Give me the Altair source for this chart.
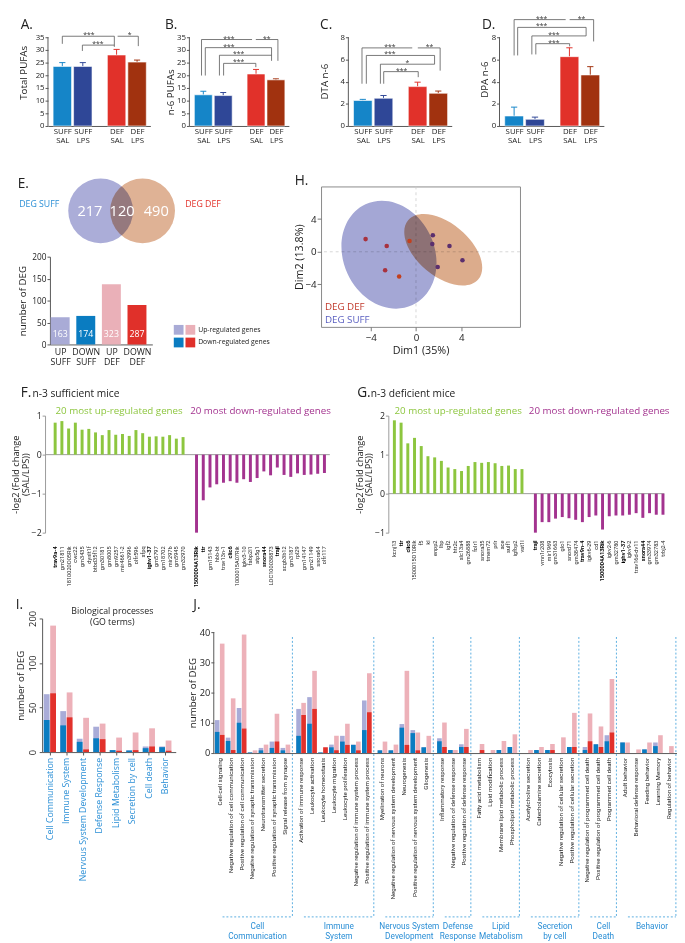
import altair as alt
import pandas as pd

FONT = "Open Sans"
NARROW = "Roboto"
TXT = "#222222"
AX = "#555555"
BLUE_TXT = "#2b8fd6"

# ---------------- Panels A-D : PUFA bar charts ----------------
GROUPS = ["SUFF SAL", "SUFF LPS", "DEF SAL", "DEF LPS"]
GROUP_POS = [1.0, 2.0, 3.65, 4.65]
GROUP_COLORS = ["#1585c8", "#2f4797", "#e1312a", "#a1320f"]

TOTAL_PUFA = [23.5, 23.5, 28.0, 25.2]
TOTAL_PUFA_TOP = [25.0, 25.0, 30.2, 26.0]
N6_PUFA = [12.3, 12.0, 20.5, 18.2]
N6_PUFA_TOP = [13.7, 13.2, 22.3, 18.6]
DTA_N6 = [2.3, 2.5, 3.55, 2.95]
DTA_N6_TOP = [2.4, 2.75, 3.95, 3.15]
DPA_N6 = [0.9, 0.6, 6.25, 4.6]
DPA_N6_TOP = [1.7, 0.8, 7.05, 5.35]

# significance brackets (x1, y1, x2, y2) in data units, and star labels
A_LINES = [(1.0, 35.4, 3.54, 35.4), (3.70, 35.4, 4.71, 35.4), (1.98, 31.9, 3.54, 31.9),
           (1.0, 35.4, 1.0, 32.4), (1.98, 31.9, 1.98, 29.6), (3.54, 35.4, 3.54, 31.2),
           (4.71, 35.4, 4.71, 31.5)]
A_STARS = [("***", 2.3, 35.4), ("*", 4.29, 35.4), ("***", 2.74, 31.9)]
B_LINES = [(0.91, 34.1, 3.45, 34.1), (3.64, 34.1, 4.75, 34.1), (1.1, 30.9, 4.43, 30.9),
           (1.81, 27.9, 4.43, 27.9), (2.02, 24.7, 3.64, 24.7),
           (0.91, 34.1, 0.91, 19.9), (1.1, 30.9, 1.1, 19.9), (1.81, 27.9, 1.81, 19.9),
           (2.02, 24.7, 2.02, 19.9), (4.75, 34.1, 4.75, 25.7), (4.43, 30.9, 4.43, 25.7),
           (3.64, 24.7, 3.64, 23.2)]
B_STARS = [("***", 2.29, 34.1), ("**", 4.19, 34.1), ("***", 2.29, 30.9), ("***", 2.77, 27.9), ("***", 2.77, 24.7)]
C_LINES = [(0.96, 7.04, 3.39, 7.04), (3.66, 7.04, 4.74, 7.04), (1.17, 6.36, 4.47, 6.36),
           (1.85, 5.57, 4.47, 5.57), (2.01, 4.9, 3.68, 4.9),
           (0.96, 7.04, 0.96, 3.81), (1.17, 6.36, 1.17, 3.81), (1.85, 5.57, 1.85, 3.81),
           (2.01, 4.9, 2.01, 3.81), (4.74, 7.04, 4.74, 4.99), (4.47, 6.36, 4.47, 5.57),
           (3.68, 4.9, 3.68, 4.4)]
C_STARS = [("***", 2.31, 7.04), ("**", 4.22, 7.04), ("***", 2.31, 6.36), ("*", 3.15, 5.57), ("***", 2.88, 4.9)]
D_LINES = [(1.0, 9.59, 3.47, 9.59), (3.66, 9.59, 4.81, 9.59), (1.17, 8.89, 4.45, 8.89),
           (1.85, 8.12, 4.45, 8.12), (2.04, 7.42, 3.66, 7.42),
           (1.0, 9.59, 1.0, 6.36), (1.17, 8.89, 1.17, 6.36), (1.85, 8.12, 1.85, 6.45),
           (2.04, 7.42, 2.04, 6.45), (4.81, 9.59, 4.81, 7.62), (4.45, 8.89, 4.45, 8.12),
           (3.66, 7.42, 3.66, 7.18)]
D_STARS = [("***", 2.32, 9.59), ("**", 4.23, 9.59), ("***", 2.32, 8.89), ("***", 2.91, 8.12), ("***", 2.91, 7.42)]

# ---------------- Panel E ----------------
VENN_SET_LABELS = ["DEG SUFF", "DEG DEF"]
VENN_SET_COLORS = ["#2b8fd6", "#e3312a"]
VENN_FILLS = ["#abadd8", "#dfb295"]
VENN_REGION_COUNTS = ["217", "120", "490"]
# venn layout (pixels inside the venn view)
VENN_CX = [52, 95]
VENN_CY = [25, 25]
VENN_COUNT_X = [41, 74, 109]
VENN_LABEL_X = [-11, 157]

DEG_CATS = ["UP SUFF", "DOWN SUFF", "UP DEF", "DOWN DEF"]
DEG_BAR = [62, 65, 137, 90]
DEG_COUNT = [163, 174, 323, 287]
DEG_REG = ["Up-regulated genes", "Down-regulated genes"]
DEG_REG_SUFF = ["Up-regulated (SUFF)", "Down-regulated (SUFF)"]
SUFF_REG_COLORS = ["#a9abd6", "#0a7cc1"]
DEF_REG_COLORS = ["#eab0b8", "#e0302a"]

# ---------------- Panel H : PCA ----------------
PCA_X = [-4.46, -2.59, -0.57, -2.73, -1.49, 1.49, 1.44, 2.96, 4.11, 1.92]
PCA_Y = [1.55, 0.71, 1.31, -2.26, -3.02, 2.02, 0.95, 0.71, -1.03, -1.87]
PCA_COL = ["#a8323e", "#a8323e", "#c2401e", "#a8323e", "#c2401e",
           "#5b2f6e", "#5b2f6e", "#5b2f6e", "#5b2f6e", "#5b2f6e"]
ELL_NAMES = ["DEG SUFF", "DEG DEF"]
ELL_CX = [-2.39, 2.41]
ELL_CY = [-0.36, 0.24]
ELL_COLORS = ["#a4a7d5", "#dcac8c"]

# ---------------- Panels F, G ----------------
GREEN = "#8dc63f"
PURPLE = "#a3338f"
F_UP_GENES = ["trav9a-4", "gm21811", "1810020O05Rik", "cwc22", "gm3435", "dynlt1f", "btbd35f12", "gm30181",
              "gm8005", "gm9257", "mir4661-2", "gm3996", "olfr596", "sfpq", "ighv1-37", "gm5797",
              "gm18702", "mir297b", "gm5945", "gm32970"]
F_UP_VALUES = [0.82, 0.86, 0.67, 0.82, 0.64, 0.66, 0.57, 0.5, 0.63, 0.51, 0.53, 0.48, 0.63, 0.55,
               0.46, 0.47, 0.46, 0.5, 0.41, 0.45]
F_DOWN_GENES = ["1500004A13Rik", "ttr", "gm15143", "hbb-bt", "trav13n-1", "clic6", "1000015A07Rik",
                "igkv3-10", "fabp2l1", "atp5g1", "snora44", "LOC100038873", "trajl", "scgb3b12",
                "gm3187", "rpl29", "gm14147", "gm21149", "snora64", "olfr117"]
F_DOWN_VALUES = [-2.0, -1.17, -0.84, -0.76, -0.72, -0.68, -0.72, -0.63, -0.70, -0.60, -0.43, -0.53,
                 -0.33, -0.52, -0.57, -0.48, -0.52, -0.51, -0.49, -0.47]
F_BOLD = ["trav9a-4", "ighv1-37", "1500004A13Rik", "ttr", "clic6", "snora44", "trajl"]

G_UP_GENES = ["kcnj13", "ttr", "clic6", "1500015O10Rik", "f5", "kl", "enpp2", "lbp", "igf2", "htr2c",
              "slc13a4", "gm26888", "folr1", "snora35", "tmem72", "prlr", "ace", "sulf1", "igfbp2", "vat1l"]
G_UP_VALUES = [1.88, 1.82, 1.29, 1.43, 1.22, 0.96, 0.93, 0.84, 0.67, 0.63, 0.58, 0.71, 0.81, 0.79,
               0.81, 0.78, 0.71, 0.72, 0.63, 0.63]
G_DOWN_GENES = ["trajl", "vmn1r208", "mir1969", "gm31663", "glo1", "snord71", "gm38474", "trav9n-4",
                "igkv6-29", "cd1", "1500004A13Rik", "igkv2-6", "gm32780", "ighv1-37", "igkv9-2",
                "trav16d-dv11", "snora44", "gm33974", "gm32783", "trbj2-4"]
G_DOWN_VALUES = [-1.0, -0.73, -0.73, -0.64, -0.60, -0.63, -0.67, -0.73, -0.60, -0.56, -0.92, -0.58,
                 -0.56, -0.56, -0.54, -0.50, -0.62, -0.50, -0.54, -0.54]
G_BOLD = ["ttr", "clic6", "trajl", "trav9n-4", "1500004A13Rik", "ighv1-37", "snora44"]

# ---------------- Panel I ----------------
I_CATS = ["Cell Communication", "Immune System", "Nervous System Development", "Defense Response",
          "Lipid Metabolism", "Secretion by cell", "Cell death", "Behavior"]
I_SUFF_DOWN = [36, 30, 11.5, 15.5, 2.2, 1.8, 4.4, 5.5]
I_SUFF_TOTAL = [65, 46, 15, 28.5, 2.2, 1.8, 6.3, 6.3]
I_DEF_DOWN = [66, 39, 3, 14.5, 1.5, 2.2, 6.3, 1.5]
I_DEF_TOTAL = [184, 67, 38.5, 32, 16.3, 22, 26.7, 13]

LAV = "#a9acd8"
BLU = "#0a7cc1"
PNK = "#edb1b9"
RED = "#e2312b"

# ---------------- Panel J ----------------
J_TERMS = ["Cell-cell signaling", "Negative regulation of cell communication",
           "Positive regulation of cell communication", "Negative regulation of synaptic transmission",
           "Neurotransmitter secretion", "Positive regulation of synaptic transmission",
           "Signal release from synapse",
           "Activation of immune response", "Leukocyte activation", "Leukocyte homeostasis",
           "Leukocyte migration", "Leukocyte proliferation", "Negative regulation of immune system process",
           "Positive regulation of immune system process",
           "Myelination of neurons", "Negative regulation of nervous system development", "Neurogenesis",
           "Positive regulation of nervous system development", "Gliogenesis",
           "Inflammatory response", "Negative regulation of defense response",
           "Positive regulation of defense response",
           "Fatty acid metabolism", "Lipid modification", "Membrane lipid metabolic process",
           "Phospholipid metabolic process",
           "Acetylcholine secretion", "Catecholamine secretion", "Exocytosis",
           "Negative regulation of cellular secretion", "Positive regulation of cellular secretion",
           "Negative regulation of programmed cell death", "Positive regulation of programmed cell death",
           "Programmed cell death",
           "Adult behavior", "Behavioral defense response", "Feeding behavior", "Learning Memory",
           "Regulation of behavior"]
J_TERM_GROUP = [0] * 7 + [1] * 7 + [2] * 5 + [3] * 3 + [4] * 4 + [5] * 5 + [6] * 3 + [7] * 5
J_SUFF_TOTAL = [10.9, 5.1, 14.9, 0.2, 1.7, 3.8, 1.7,
                14.6, 18.5, 0.2, 2.8, 5.7, 2.8, 17.4,
                0.9, 0.9, 9.6, 7.6, 1.9,
                4.9, 1.0, 2.9,
                0, 0, 1.0, 2.0,
                0, 1.0, 1.0, 0, 2.0,
                2.0, 2.9, 5.9,
                3.5, 0, 1.2, 3.5, 0]
J_SUFF_DOWN = [7.0, 4.0, 10.0, 0.2, 0.9, 1.7, 0.9,
               5.7, 9.7, 0.2, 1.9, 3.8, 2.7, 7.6,
               0.9, 0.9, 8.4, 6.6, 1.9,
               3.9, 1.0, 2.0,
               0, 0, 1.0, 2.0,
               0, 1.0, 1.0, 0, 2.0,
               1.0, 2.9, 3.9,
               3.5, 0, 1.2, 2.3, 0]
J_DEF_TOTAL = [36.2, 18.1, 39.2, 0.9, 2.8, 13.0, 2.8,
               16.6, 27.2, 1.9, 5.7, 9.7, 3.8, 26.4,
               3.8, 2.8, 27.2, 6.8, 5.7,
               10.1, 1.0, 8.0,
               3.0, 1.0, 4.0, 6.2,
               1.0, 2.0, 3.0, 5.2, 13.3,
               13.1, 8.8, 24.5,
               3.5, 1.2, 3.5, 5.9, 2.3]
J_DEF_DOWN = [6.0, 1.0, 8.1, 0, 0, 3.8, 0,
              12.6, 14.6, 1.9, 0.9, 2.7, 0.9, 13.5,
              0, 0, 2.7, 0.9, 0,
              2.0, 0, 2.0,
              1.0, 0, 0, 0,
              0, 0, 1.0, 0, 2.0,
              3.9, 2.0, 6.8,
              0, 0, 0, 0, 0]
J_GROUP_LABELS = ["Cell\nCommunication", "Immune\nSystem", "Nervous System\nDevelopment", "Defense\nResponse",
                  "Lipid\nMetabolism", "Secretion\nby cell", "Cell\nDeath", "Behavior"]
J_GROUP_GAP = 0.43


def txt(t, dx, dy, size, color=TXT, align="left", baseline="top", weight="normal", font=FONT, line_height=None):
    return alt.Chart(pd.DataFrame({"t": [t]})).mark_text(
        align=align, baseline=baseline, fontSize=size, color=color, fontWeight=weight, font=font,
        lineBreak="\n", lineHeight=line_height if line_height else size + 1
    ).encode(x=alt.value(dx), y=alt.value(dy), text="t:N")


def spacer(w, h):
    return alt.Chart(pd.DataFrame({"v": [0]})).mark_point(opacity=0, size=1).encode(
        x=alt.value(0), y=alt.value(0)).properties(width=w, height=h)


PUFA_LABEL_EXPR = ("datum.value < 1.5 ? ['SUFF','SAL'] : datum.value < 2.5 ? ['SUFF','LPS'] : "
                   "datum.value < 4 ? ['DEF','SAL'] : ['DEF','LPS']")


def pufa_panel(letter, letter_dx, ytitle, title_pad, title_y, vals, tops, ymax, yfull, yticks, lines, stars, width):
    h = 115
    df = pd.DataFrame({"group": GROUPS, "pos": GROUP_POS, "value": vals, "err": tops, "col": GROUP_COLORS})
    df["lo"] = df["pos"] - 0.45
    df["hi"] = df["pos"] + 0.45
    df["cl"] = df["pos"] - 0.15
    df["cr"] = df["pos"] + 0.15
    df["zero"] = 0.0
    xs = alt.Scale(domain=[0.3, 5.3], nice=False, zero=False)
    ys = alt.Scale(domain=[0, yfull], nice=False)
    xa = alt.Axis(values=GROUP_POS, labelExpr=PUFA_LABEL_EXPR, title=None, ticks=False, labelFontSize=8,
                  labelPadding=2, labelLineHeight=9, labelColor=TXT, domainColor=AX, labelAngle=0,
                  labelFlush=False, labelOverlap=False)
    ya = alt.Axis(values=yticks, title=ytitle, titlePadding=title_pad, titleY=title_y, tickSize=3,
                  labelFontSize=8, labelPadding=1, titleFontSize=10, titleFontWeight="normal", labelColor=TXT,
                  titleColor=TXT, domain=False, tickColor=AX, labelFlush=False)
    col = alt.Color("col:N", scale=None)
    base = alt.Chart(df)
    err = base.mark_rule(strokeWidth=1).encode(
        x=alt.X("pos:Q", scale=xs, axis=xa), y=alt.Y("value:Q", scale=ys, axis=ya), y2="err:Q", color=col)
    cap = base.mark_rule(strokeWidth=1).encode(
        x=alt.X("cl:Q", scale=xs, axis=xa), x2="cr:Q", y=alt.Y("err:Q", scale=ys, axis=ya), color=col)
    bars = base.mark_bar(stroke="#ffffff", strokeWidth=0.6).encode(
        x=alt.X("lo:Q", scale=xs, axis=xa), x2="hi:Q", y=alt.Y("value:Q", scale=ys, axis=ya),
        y2="zero:Q", color=col)
    axis_line = alt.Chart(pd.DataFrame({"y0": [0.0], "y1": [float(ymax)]})).mark_rule(
        color=AX, strokeWidth=1).encode(x=alt.value(0), y=alt.Y("y0:Q", scale=ys, axis=ya), y2="y1:Q")
    sdf = pd.DataFrame(lines, columns=["x1", "y1", "x2", "y2"])
    seg = alt.Chart(sdf).mark_rule(color="#555555", strokeWidth=0.8).encode(
        x=alt.X("x1:Q", scale=xs, axis=xa), y=alt.Y("y1:Q", scale=ys, axis=ya), x2="x2:Q", y2="y2:Q")
    tdf = pd.DataFrame(stars, columns=["t", "x", "y"])
    st = alt.Chart(tdf).mark_text(fontSize=7, baseline="bottom", dy=2, color="#333333").encode(
        x=alt.X("x:Q", scale=xs, axis=xa), y=alt.Y("y:Q", scale=ys, axis=ya), text="t:N")
    return alt.layer(
        err, cap, bars, axis_line, seg, st,
        txt(letter, letter_dx, 5, 14),
    ).properties(width=width, height=h)


panel_a = pufa_panel("A.", -28, "Total PUFAs", 7, 60, TOTAL_PUFA, TOTAL_PUFA_TOP, 35, 44.23,
                     [0, 5, 10, 15, 20, 25, 30, 35], A_LINES, A_STARS, 105)
panel_b = pufa_panel("B.", -25, "n-6 PUFAs", 1, 80, N6_PUFA, N6_PUFA_TOP, 35, 44.23,
                     [0, 5, 10, 15, 20, 25, 30, 35], B_LINES, B_STARS, 102)
panel_c = pufa_panel("C.", -29, "DTA n-6", 11, 69, DTA_N6, DTA_N6_TOP, 8, 10.11, [0, 2, 4, 6, 8],
                     C_LINES, C_STARS, 106)
panel_d = pufa_panel("D.", -18, "DPA n-6", 2, 67, DPA_N6, DPA_N6_TOP, 8, 10.11, [0, 2, 4, 6, 8],
                     D_LINES, D_STARS, 107)

row1 = alt.hconcat(spacer(9, 1), panel_a, spacer(14, 1), panel_b, spacer(30, 1), panel_c, spacer(27, 1),
                   panel_d, spacing=0)

# ---------------- Panel E ----------------
vw, vh = 180, 65
vxs = alt.Scale(domain=[0, vw], nice=False, zero=False)
vys = alt.Scale(domain=[0, vh], nice=False, zero=False, reverse=True)
circ_df = pd.DataFrame({"name": VENN_SET_LABELS, "cx": VENN_CX, "cy": VENN_CY, "fill": VENN_FILLS})
venn_circles = alt.Chart(circ_df).mark_circle(size=4418, opacity=1, blend="multiply").encode(
    x=alt.X("cx:Q", scale=vxs, axis=None), y=alt.Y("cy:Q", scale=vys, axis=None),
    color=alt.Color("fill:N", scale=None))
cnt_df = pd.DataFrame({"t": VENN_REGION_COUNTS, "x": VENN_COUNT_X, "y": [25, 25, 25]})
venn_counts = alt.Chart(cnt_df).mark_text(fontSize=15, color="white", baseline="middle").encode(
    x=alt.X("x:Q", scale=vxs, axis=None), y=alt.Y("y:Q", scale=vys, axis=None), text="t:N")
lab_df = pd.DataFrame({"t": VENN_SET_LABELS, "x": VENN_LABEL_X, "y": [18, 18], "c": VENN_SET_COLORS})
venn_labels = alt.Chart(lab_df).mark_text(fontSize=9, baseline="middle").encode(
    x=alt.X("x:Q", scale=vxs, axis=None), y=alt.Y("y:Q", scale=vys, axis=None), text="t:N",
    color=alt.Color("c:N", scale=None))
venn = alt.layer(venn_circles, venn_counts, venn_labels, txt("E.", -33, -9, 14)).properties(width=vw, height=vh)

deg_df = pd.DataFrame({"cat": DEG_CATS, "pos": [1, 2, 3, 4], "value": DEG_BAR, "count": DEG_COUNT,
                       "reg_suff": DEG_REG_SUFF * 2, "reg_def": DEG_REG * 2,
                       "diet": ["SUFF", "SUFF", "DEF", "DEF"]})
deg_df["lo"] = deg_df["pos"] - 0.37
deg_df["hi"] = deg_df["pos"] + 0.37
deg_df["zero"] = 0.0
deg_df["ylab"] = 24.0
exs = alt.Scale(domain=[0.6, 4.6], nice=False, zero=False)
eys = alt.Scale(domain=[0, 200], nice=False)
E_LABEL_EXPR = ("datum.value < 1.5 ? ['UP','SUFF'] : datum.value < 2.5 ? ['DOWN','SUFF'] : "
                "datum.value < 3.5 ? ['UP','DEF'] : ['DOWN','DEF']")
exa = alt.Axis(values=[1, 2, 3, 4], labelExpr=E_LABEL_EXPR, title=None, ticks=False, labelFontSize=9,
               labelPadding=3, labelLineHeight=11, domainColor=AX, labelColor=TXT, labelFlush=False,
               labelOverlap=False)
eya = alt.Axis(values=[0, 50, 100, 150, 200], title="number of DEG", titlePadding=4, titleFontSize=10,
               labelFontSize=8.5, tickSize=3, labelPadding=1, domainColor=AX, tickColor=AX, labelFlush=False)
suff_bars = alt.Chart(deg_df[deg_df.diet == "SUFF"]).mark_bar().encode(
    x=alt.X("lo:Q", scale=exs, axis=exa), x2="hi:Q", y=alt.Y("value:Q", scale=eys, axis=eya), y2="zero:Q",
    color=alt.Color("reg_suff:N", scale=alt.Scale(domain=DEG_REG_SUFF, range=SUFF_REG_COLORS),
                    legend=alt.Legend(orient="none", legendX=127, legendY=70, title=None, symbolType="square",
                                      symbolSize=100, symbolStrokeWidth=0, labelOpacity=0, labelFontSize=7,
                                      labelLimit=1, rowPadding=3)))
def_bars = alt.Chart(deg_df[deg_df.diet == "DEF"]).mark_bar().encode(
    x=alt.X("lo:Q", scale=exs, axis=exa), x2="hi:Q", y=alt.Y("value:Q", scale=eys, axis=eya), y2="zero:Q",
    fill=alt.Fill("reg_def:N", scale=alt.Scale(domain=DEG_REG, range=DEF_REG_COLORS),
                  legend=alt.Legend(orient="none", legendX=139, legendY=70, title=None, symbolType="square",
                                    symbolSize=100, symbolStrokeWidth=0, labelFontSize=7, labelColor=TXT,
                                    labelOffset=3, rowPadding=3)))
deg_counts = alt.Chart(deg_df).mark_text(fontSize=9, color="white", baseline="middle").encode(
    x=alt.X("pos:Q", scale=exs, axis=exa), y=alt.Y("ylab:Q", scale=eys, axis=eya), text="count:N")
ebar = alt.layer(suff_bars, def_bars, deg_counts).properties(width=105, height=90)

e_col = alt.vconcat(venn, spacer(1, 2), ebar, spacing=0).resolve_scale(color="independent", fill="independent")


# ---------------- Panel H ----------------
def ellipse_path(rx, ry):
    k = 0.5523
    kx, ky = round(rx * k, 4), round(ry * k, 4)
    return (f"M {rx} 0 C {rx} {ky} {kx} {ry} 0 {ry} C {-kx} {ry} {-rx} {ky} {-rx} 0 "
            f"C {-rx} {-ky} {-kx} {-ry} 0 {-ry} C {kx} {-ry} {rx} {-ky} {rx} 0 Z")


hxs = alt.Scale(domain=[-8.4, 9.2], nice=False, zero=False)
hys = alt.Scale(domain=[-9.2, 8.0], nice=False, zero=False)
hxa = alt.Axis(values=[-4, 0, 4], title="Dim1 (35%)", titleFontSize=11, labelFontSize=10, tickSize=4,
               domain=False, grid=False, labelFlush=False, titlePadding=2, tickColor="#777777")
hya = alt.Axis(values=[-4, 0, 4], title="Dim2 (13.8%)", titleFontSize=11, labelFontSize=10, tickSize=4,
               domain=False, grid=False, labelFlush=False, titlePadding=1, labelPadding=1, tickColor="#777777")
zero_df = pd.DataFrame({"z": [0.0]})
h_hline = alt.Chart(zero_df).mark_rule(color="#cccccc", strokeDash=[3, 3], strokeWidth=0.8).encode(
    y=alt.Y("z:Q", scale=hys, axis=hya))
h_vline = alt.Chart(zero_df).mark_rule(color="#cccccc", strokeDash=[3, 3], strokeWidth=0.8).encode(
    x=alt.X("z:Q", scale=hxs, axis=hxa))
ell_suff = alt.Chart(pd.DataFrame({"x": [ELL_CX[0]], "y": [ELL_CY[0]]})).mark_point(
    shape=ellipse_path(0.82, 1.0), size=12996, angle=335, filled=True, opacity=1, color=ELL_COLORS[0],
    strokeWidth=0, blend="multiply").encode(
    x=alt.X("x:Q", scale=hxs, axis=hxa), y=alt.Y("y:Q", scale=hys, axis=hya))
ell_def = alt.Chart(pd.DataFrame({"x": [ELL_CX[1]], "y": [ELL_CY[1]]})).mark_point(
    shape=ellipse_path(1.0, 0.574), size=8836, angle=40, filled=True, opacity=1, color=ELL_COLORS[1],
    strokeWidth=0, blend="multiply").encode(
    x=alt.X("x:Q", scale=hxs, axis=hxa), y=alt.Y("y:Q", scale=hys, axis=hya))
pts = alt.Chart(pd.DataFrame({"x": PCA_X, "y": PCA_Y, "c": PCA_COL})).mark_circle(size=22, opacity=1).encode(
    x=alt.X("x:Q", scale=hxs, axis=hxa), y=alt.Y("y:Q", scale=hys, axis=hya), color=alt.Color("c:N", scale=None))
panel_h = alt.layer(
    h_hline, h_vline, ell_suff, ell_def, pts,
    txt("DEG DEF", 4, 124, 10, color="#c0392b", baseline="middle", line_height=10),
    txt("DEG SUFF", 4, 137, 10, color="#5a5fc0", baseline="middle", line_height=10),
    txt("H.", -27, -12, 14),
).properties(width=204, height=144, view=alt.ViewBackground(stroke="#888888", strokeOpacity=1, strokeWidth=1))

row2 = alt.hconcat(spacer(9, 1), e_col, spacer(22, 1), panel_h, spacing=0).resolve_scale(
    color="independent", fill="independent")


# ---------------- Panels F, G ----------------
def fold_panel(letter, subtitle, letter_dx, sub_dx, up_genes, up_vals, down_genes, down_vals, bold,
               ydom, yticks, xdom, width, label_y):
    h = 120
    rows = []
    for i, (g, v) in enumerate(zip(up_genes, up_vals)):
        rows.append({"idx": i, "gene": g, "value": v, "col": GREEN, "bold": g in bold})
    for i, (g, v) in enumerate(zip(down_genes, down_vals)):
        rows.append({"idx": 21 + i, "gene": g, "value": v, "col": PURPLE, "bold": g in bold})
    df = pd.DataFrame(rows)
    df["lo"] = df["idx"] - 0.22
    df["hi"] = df["idx"] + 0.22
    df["zero"] = 0.0
    xs = alt.Scale(domain=xdom, nice=False, zero=False)
    ys = alt.Scale(domain=ydom, nice=False, zero=False)
    ya = alt.Axis(values=yticks, title=["-log2 (Fold change", "(SAL/LPS))"], titlePadding=1, titleFontSize=9.5,
                  titleLineHeight=9.5, labelFontSize=9, tickSize=3, labelPadding=1, domainColor="#999999",
                  tickColor="#999999", labelFlush=False)
    zero = alt.Chart(pd.DataFrame({"z": [0.0]})).mark_rule(color="#999999", strokeWidth=1).encode(
        y=alt.Y("z:Q", scale=ys, axis=ya))
    bars = alt.Chart(df).mark_bar().encode(
        x=alt.X("lo:Q", scale=xs, axis=None), x2="hi:Q", y=alt.Y("value:Q", scale=ys, axis=ya), y2="zero:Q",
        color=alt.Color("col:N", scale=None))
    lab_n = alt.Chart(df[~df["bold"]]).mark_text(angle=270, align="right", baseline="middle", fontSize=5.8,
                                                 color=TXT, font=NARROW).encode(
        x=alt.X("idx:Q", scale=xs, axis=None), y=alt.value(label_y), text="gene:N")
    lab_b = alt.Chart(df[df["bold"]]).mark_text(angle=270, align="right", baseline="middle", fontSize=5.8,
                                                color="#000000", fontWeight="bold", font=NARROW).encode(
        x=alt.X("idx:Q", scale=xs, axis=None), y=alt.value(label_y), text="gene:N")
    heads = alt.Chart(pd.DataFrame({"x": [9.5, 30.5],
                                    "t": ["20 most up-regulated genes", "20 most down-regulated genes"],
                                    "c": [GREEN, PURPLE]})).mark_text(fontSize=10, baseline="middle").encode(
        x=alt.X("x:Q", scale=xs, axis=None), y=alt.value(-5), text="t:N", color=alt.Color("c:N", scale=None))
    return alt.layer(
        zero, bars, lab_n, lab_b, heads,
        txt(letter, letter_dx, -23, 14, baseline="middle"),
        txt(subtitle, sub_dx, -22, 10.5, baseline="middle"),
    ).properties(width=width, height=h)


panel_f = fold_panel("F.", "n-3 sufficient mice", -25, -13, F_UP_GENES, F_UP_VALUES, F_DOWN_GENES,
                     F_DOWN_VALUES, F_BOLD, [-2, 1], [-2, -1, 0, 1], [-1.5, 40.8], 292, 134)
panel_g = fold_panel("G.", "n-3 deficient mice", -32, -18, G_UP_GENES, G_UP_VALUES, G_DOWN_GENES,
                     G_DOWN_VALUES, G_BOLD, [-1, 2], [-1, 0, 1, 2], [-0.9, 40.2], 283, 128)
row3 = alt.hconcat(spacer(2, 1), panel_f, spacer(22, 1), panel_g, spacing=0)

# ---------------- Panel I ----------------
i_df = pd.DataFrame({"cat": I_CATS, "idx": list(range(len(I_CATS))), "suff_down": I_SUFF_DOWN,
                     "suff_total": I_SUFF_TOTAL, "def_down": I_DEF_DOWN, "def_total": I_DEF_TOTAL})
i_df["s_lo"] = i_df["idx"] - 0.37
i_df["s_hi"] = i_df["idx"] - 0.02
i_df["d_lo"] = i_df["idx"] + 0.02
i_df["d_hi"] = i_df["idx"] + 0.37
i_df["zero"] = 0.0
ixs = alt.Scale(domain=[-0.47, 7.63], nice=False, zero=False)
iys = alt.Scale(domain=[0, 100, 200], range=[137, 45.67, 0], nice=False, zero=False)
ixa = alt.Axis(values=list(range(8)), labels=False, title=None, tickSize=3, domainColor=AX, tickColor=AX)
iya = alt.Axis(values=[0, 50, 100, 200], title="number of DEG", titleFontSize=10, titlePadding=2, labelAngle=270,
               labelAlign="center", labelBaseline="bottom", labelFontSize=9.5, tickSize=3, labelPadding=2,
               domainColor=AX, tickColor=AX, labelFlush=False)


def i_bar(lo, hi, field, color):
    return alt.Chart(i_df).mark_bar(color=color).encode(
        x=alt.X(f"{lo}:Q", scale=ixs, axis=ixa), x2=f"{hi}:Q",
        y=alt.Y(f"{field}:Q", scale=iys, axis=iya), y2="zero:Q")


i_labels = alt.Chart(i_df).mark_text(angle=270, align="right", baseline="middle", fontSize=9,
                                     color=BLUE_TXT).encode(
    x=alt.X("idx:Q", scale=ixs, axis=ixa), y=alt.value(143), text="cat:N")
panel_i = alt.layer(
    i_bar("s_lo", "s_hi", "suff_total", LAV), i_bar("s_lo", "s_hi", "suff_down", BLU),
    i_bar("d_lo", "d_hi", "def_total", PNK), i_bar("d_lo", "d_hi", "def_down", RED),
    i_labels,
    txt("Biological processes\n(GO terms)", 72, -12, 9, align="center", line_height=11.5),
    txt("I.", -27, -21, 14),
).properties(width=137, height=137)

# ---------------- Panel J ----------------
j_pos = [i + g * J_GROUP_GAP for i, g in enumerate(J_TERM_GROUP)]
j_df = pd.DataFrame({"term": J_TERMS, "pos": j_pos, "suff_total": J_SUFF_TOTAL, "suff_down": J_SUFF_DOWN,
                     "def_total": J_DEF_TOTAL, "def_down": J_DEF_DOWN})
j_df["s_lo"] = j_df["pos"]
j_df["s_hi"] = j_df["pos"] + 0.42
j_df["d_lo"] = j_df["pos"] + 0.46
j_df["d_hi"] = j_df["pos"] + 0.88
j_df["lab"] = j_df["pos"] + 0.44
j_df["zero"] = 0.0

n_groups = len(J_GROUP_LABELS)
first_pos = [min(p for p, g in zip(j_pos, J_TERM_GROUP) if g == k) for k in range(n_groups)]
last_pos = [max(p for p, g in zip(j_pos, J_TERM_GROUP) if g == k) for k in range(n_groups)]
sep_pos = [first_pos[k + 1] - 0.35 for k in range(n_groups - 1)] + [last_pos[-1] + 1.08]
g_df = pd.DataFrame({"label": J_GROUP_LABELS, "x1": [f + 0.7 for f in first_pos], "sep": sep_pos})
g_df["mid"] = (g_df["x1"] + g_df["sep"]) / 2

J_H = 138
J_YTOP = 40 + 14 / 3.1
jxs = alt.Scale(domain=[-0.1, sep_pos[-1] + 0.1], nice=False, zero=False)
jys = alt.Scale(domain=[0, J_YTOP], nice=False)
jxa = alt.Axis(labels=False, ticks=False, title=None, domainColor=AX, grid=False)
jya = alt.Axis(values=[0, 10, 20, 30, 40], title="number of DEG", titleFontSize=10, titlePadding=2, titleY=76,
               labelFontSize=9.5, tickSize=3, labelPadding=1, domain=False, tickColor=AX, labelFlush=False)


def j_bar(lo, hi, field, color):
    return alt.Chart(j_df).mark_bar(color=color).encode(
        x=alt.X(f"{lo}:Q", scale=jxs, axis=jxa), x2=f"{hi}:Q",
        y=alt.Y(f"{field}:Q", scale=jys, axis=jya), y2="zero:Q")


j_axis_line = alt.Chart(pd.DataFrame({"y0": [0.0], "y1": [40.0]})).mark_rule(color=AX, strokeWidth=1).encode(
    x=alt.value(0), y=alt.Y("y0:Q", scale=jys, axis=jya), y2="y1:Q")
j_labels = alt.Chart(j_df).mark_text(angle=270, align="right", baseline="middle", fontSize=6.3, color=TXT,
                                     font=NARROW).encode(
    x=alt.X("lab:Q", scale=jxs, axis=jxa), y=alt.value(143), text="term:N")
j_vsep = alt.Chart(g_df).mark_rule(color="#5aaee0", strokeDash=[2, 2], strokeWidth=1).encode(
    x=alt.X("sep:Q", scale=jxs, axis=jxa), y=alt.value(19), y2=alt.value(306))
j_hsep = alt.Chart(g_df).mark_rule(color="#5aaee0", strokeDash=[2, 2], strokeWidth=1).encode(
    x=alt.X("x1:Q", scale=jxs, axis=jxa), x2="sep:Q", y=alt.value(306))
j_glab = alt.Chart(g_df).mark_text(fontSize=8.5, color=BLUE_TXT, baseline="top", lineBreak="\n",
                                   lineHeight=10.5, font=NARROW).encode(
    x=alt.X("mid:Q", scale=jxs, axis=jxa), y=alt.value(311), text="label:N")
panel_j = alt.layer(
    j_bar("s_lo", "s_hi", "suff_total", LAV), j_bar("s_lo", "s_hi", "suff_down", BLU),
    j_bar("d_lo", "d_hi", "def_total", PNK), j_bar("d_lo", "d_hi", "def_down", RED),
    j_axis_line, j_labels, j_vsep, j_hsep, j_glab,
    txt("J.", -21, -21, 14),
).properties(width=475, height=J_H)

row4 = alt.hconcat(spacer(7, 1), panel_i, spacer(11, 1), panel_j, spacing=0)

chart = alt.vconcat(row1, spacer(1, 29), row2, spacer(1, 19), row3, spacer(1, 9), row4, spacing=0).properties(
    padding={"top": -7, "left": 0, "right": 0, "bottom": 0}
).resolve_scale(color="independent", fill="independent").configure(font=FONT).configure_view(
    strokeOpacity=0).configure_axis(grid=False, titleFontWeight="normal", labelColor=TXT, titleColor=TXT)

chart.save("out.html", embed_options={"renderer": "svg", "actions": False})
